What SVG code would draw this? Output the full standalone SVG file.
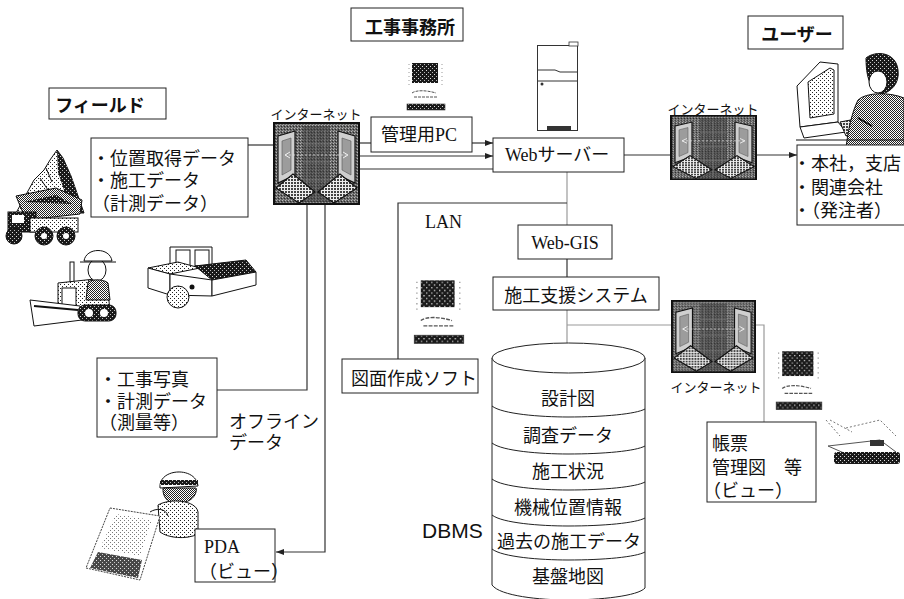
<svg xmlns="http://www.w3.org/2000/svg" width="904" height="599" viewBox="0 0 904 599">
<style>
  .box{fill:#fff;stroke:#222;stroke-width:1}
  .ln{fill:none;stroke:#333;stroke-width:1.2}
  .lg{fill:none;stroke:#9a9a9a;stroke-width:1.2}
  .ink{stroke:#111;stroke-width:1}
  text{dominant-baseline:central;fill:#111}
  .jp{font-family:"Noto Sans CJK JP","Noto Sans CJK SC",sans-serif;font-size:18px}
  .jpl{font-family:"Liberation Sans","Noto Sans CJK JP","Noto Sans CJK SC",sans-serif;font-size:18px}
  .mx{font-family:"Liberation Serif","Noto Sans CJK JP",serif;font-size:18px}
  .hd{font-family:"Noto Sans CJK JP","Noto Sans CJK SC",sans-serif;font-size:18px;font-weight:bold}
  .net{font-family:"Noto Sans CJK JP","Noto Sans CJK SC",sans-serif;font-size:13px}
  .mid{text-anchor:middle}
</style>
<defs>
  <!-- halftone fills -->
  <pattern id="p-light" width="4" height="4" patternUnits="userSpaceOnUse">
    <rect width="4" height="4" fill="#fff"/><rect width="1" height="1" fill="#222"/><rect x="2" y="2" width="1" height="1" fill="#222"/>
  </pattern>
  <pattern id="p-mid" width="2" height="2" patternUnits="userSpaceOnUse">
    <rect width="2" height="2" fill="#fff"/><rect width="1" height="1" fill="#222"/><rect x="1" y="1" width="1" height="1" fill="#222"/>
  </pattern>
  <pattern id="p-dark" width="4" height="4" patternUnits="userSpaceOnUse">
    <rect width="4" height="4" fill="#1a1a1a"/><rect width="1" height="1" fill="#ddd"/><rect x="2" y="2" width="1" height="1" fill="#bbb"/>
  </pattern>
  <pattern id="p-grain" width="3" height="3" patternUnits="userSpaceOnUse">
    <rect width="1" height="1" fill="#b8b8b8"/><rect x="2" y="1" width="1" height="1" fill="#2a2a2a"/><rect x="1" y="2" width="1" height="1" fill="#9a9a9a"/>
  </pattern>
  <pattern id="p-keys" width="3" height="3" patternUnits="userSpaceOnUse">
    <rect width="3" height="3" fill="#eee"/><rect width="2" height="2" fill="#444"/>
  </pattern>
  <marker id="ah" viewBox="0 0 8 6" refX="8" refY="3" markerWidth="8" markerHeight="6" orient="auto" markerUnits="userSpaceOnUse">
    <path d="M0,0 L8,3 L0,6 z" fill="#222"/>
  </marker>
  <!-- internet icon: two laptops facing each other over a grey field -->
  <symbol id="inet" viewBox="0 0 87 83" preserveAspectRatio="none">
    <rect x="0" y="0" width="87" height="83" fill="#666"/>
    <rect x="0" y="0" width="87" height="83" fill="url(#p-grain)"/>
    <rect x="30" y="4" width="27" height="76" fill="#3a3a3a" opacity="0.55"/>
    <path d="M34,8 V78 M43,8 V78 M52,8 V78 M30,22 H57 M30,40 H57 M30,58 H57" stroke="#8a8a8a" stroke-width="0.8" opacity="0.7"/>
    <g id="lap">
      <polygon points="5,14 22,9 22,53 5,61" fill="#cfcfcf" stroke="#111" stroke-width="1.2"/>
      <polygon points="9,19 18,16 18,48 9,53" fill="#9c9c9c" stroke="#555" stroke-width="0.6"/>
      <polygon points="3,66 20,52 42,70 26,81" fill="url(#p-keys)" stroke="#111" stroke-width="1.2"/>
    </g>
    <use href="#lap" transform="translate(87,0) scale(-1,1)"/>
    <path d="M12,33 H75" stroke="#ddd" stroke-width="0.8" stroke-dasharray="2 2"/>
    <path d="M12,33 l5,-3 M12,33 l5,3 M75,33 l-5,-3 M75,33 l-5,3" stroke="#eee" stroke-width="1"/>
    <rect x="1" y="1" width="85" height="81" fill="none" stroke="#111" stroke-width="2"/>
  </symbol>
  <!-- small desktop terminal -->
  <symbol id="pc" viewBox="0 0 40 50" preserveAspectRatio="none">
    <rect x="6" y="1" width="26" height="20" fill="url(#p-dark)"/>
    <path d="M3,2 V26 M36,2 V26" stroke="#999" stroke-width="1" stroke-dasharray="1 3"/>
    <path d="M6,31 C10,28 20,28 30,31 M8,35 H32" stroke="#555" stroke-width="1" fill="none" stroke-dasharray="3 1"/>
    <rect x="1" y="42" width="38" height="6" fill="url(#p-dark)" stroke="#333" stroke-width="0.6"/>
  </symbol>
</defs>

<!-- connectors -->
<g id="connectors">
  <path class="ln" d="M248,145 H273"/>
  <path class="ln" d="M360,143 H371"/>
  <path class="ln" d="M472,143 H493" marker-end="url(#ah)"/>
  <path class="ln" d="M360,156 H493" marker-end="url(#ah)"/>
  <path class="ln" d="M360,169 H493"/>
  <path class="ln" d="M307,205 V390 H217"/>
  <path class="ln" d="M325,205 V552 H276" marker-end="url(#ah)"/>
  <path class="lg" d="M567,172 V225"/>
  <path class="ln" d="M398,359 V203 H567"/>
  <path class="ln" d="M567,259 V277"/>
  <path class="lg" d="M567,310 V343"/>
  <path class="lg" d="M567,325 H764 V422"/>
  <path class="ln" d="M624,155 H670"/>
  <path class="ln" d="M757,155 H797" marker-end="url(#ah)"/>
</g>

<!-- field side -->
<g id="field-label">
  <rect class="box" x="49" y="88" width="117" height="31"/>
  <text class="hd mid" x="100" y="104" font-size="17">フィールド</text>
</g>
<g id="field-data">
  <rect class="box" x="91" y="138" width="157" height="79"/>
  <text class="jpl"><tspan x="92" y="158.5">・位置取得データ</tspan><tspan x="92" y="180.5">・施工データ</tspan><tspan x="92" y="203.5">（計測データ）</tspan></text>
</g>

<!-- field equipment drawings -->
<g id="field-machines">
  <!-- mountain -->
  <path d="M16,213 L34,180 L44,170 L50,160 L57,150 L63,158 L71,176 L84,213 Z" fill="url(#p-light)" class="ink"/>
  <path d="M57,150 L63,158 L71,176 L84,213 L60,213 L64,190 L58,172 Z" fill="url(#p-dark)"/>
  <path d="M40,178 L48,190 M46,168 L52,182" stroke="#111" stroke-width="1"/>
  <!-- dump truck -->
  <polygon points="16,196 56,188 82,200 80,214 26,220" fill="url(#p-mid)" class="ink"/>
  <polygon points="24,202 56,195 72,204" fill="url(#p-dark)"/>
  <rect x="8" y="212" width="28" height="20" fill="url(#p-dark)" class="ink"/>
  <rect x="12" y="215" width="12" height="8" fill="#fff"/>
  <rect x="30" y="218" width="48" height="14" fill="url(#p-light)" class="ink"/>
  <circle cx="14" cy="236" r="8" fill="url(#p-dark)" class="ink"/>
  <circle cx="44" cy="236" r="9" fill="url(#p-dark)" class="ink"/>
  <circle cx="66" cy="236" r="9" fill="url(#p-dark)" class="ink"/>
  <circle cx="44" cy="236" r="3" fill="#fff"/><circle cx="66" cy="236" r="3" fill="#fff"/>
  <!-- bulldozer with operator -->
  <rect x="70" y="262" width="4" height="20" fill="#fff" class="ink"/>
  <polygon points="58,283 95,279 108,290 110,312 58,314" fill="url(#p-light)" class="ink"/>
  <rect x="62" y="288" width="14" height="18" fill="#fff" class="ink"/>
  <polygon points="30,300 80,306 82,320 34,326" fill="#fff" class="ink"/>
  <path d="M34,306 L78,310" stroke="#111" stroke-width="2"/>
  <rect x="78" y="305" width="38" height="16" rx="7" fill="url(#p-dark)" class="ink"/>
  <circle cx="89" cy="313" r="4" fill="#fff"/><circle cx="104" cy="313" r="4" fill="#fff"/>
  <ellipse cx="97" cy="270" rx="9" ry="11" fill="#fff" class="ink"/>
  <path d="M84,261 C86,247 110,247 112,261 Z" fill="#fff" class="ink"/>
  <path d="M80,262 H116" class="ink"/>
  <path d="M88,282 C92,279 104,279 108,283 L110,300 L86,300 Z" fill="url(#p-mid)" class="ink"/>
  <!-- road roller -->
  <path d="M170,247 H212 V268 H170 Z" fill="none" class="ink"/>
  <rect x="176" y="250" width="14" height="16" fill="#fff" class="ink"/>
  <rect x="195" y="250" width="14" height="16" fill="#fff" class="ink"/>
  <polygon points="148,268 178,262 200,268 170,274" fill="url(#p-light)" class="ink"/>
  <polygon points="148,268 170,274 170,295 148,288" fill="#fff" class="ink"/>
  <polygon points="195,266 246,260 256,272 212,280" fill="url(#p-dark)" class="ink"/>
  <polygon points="170,274 212,280 212,296 170,295" fill="#fff" class="ink"/>
  <polygon points="212,280 256,272 256,285 212,296" fill="#fff" class="ink"/>
  <circle cx="178" cy="297" r="11" fill="url(#p-light)" class="ink"/>
  <circle cx="192" cy="287" r="2.5" fill="#111"/>
</g>

<!-- construction office -->
<g id="office-label">
  <rect class="box" x="351" y="8" width="112" height="33"/>
  <text class="hd mid" x="410" y="26" font-size="19">工事事務所</text>
</g>
<g id="office-pc">
  <use href="#pc" x="406" y="62" width="40" height="50"/>
</g>
<g id="internet-field">
  <text class="net mid" x="316" y="113">インターネット</text>
  <use href="#inet" x="273" y="122" width="87" height="83"/>
</g>
<g id="kanri-pc">
  <rect class="box" x="371" y="117" width="101" height="35"/>
  <text class="mx" x="381" y="135">管理用PC</text>
</g>
<g id="server-tower">
  <rect x="537.5" y="45.5" width="40" height="85" fill="#fff" stroke="#333"/>
  <rect x="569" y="42" width="9" height="4" fill="#fff" stroke="#333" stroke-width="0.8"/>
  <path d="M538,70 H555 L560,72 H577 M538,81 H577" stroke="#333" stroke-width="1" fill="none"/>
  <circle cx="542" cy="84" r="1.5" fill="#333"/>
  <rect x="547" y="126" width="24" height="4" fill="#333"/>
</g>
<g id="web-server">
  <rect class="box" x="493" y="138" width="131" height="34"/>
  <text class="mx" x="505" y="155">Webサーバー</text>
</g>

<!-- user side -->
<g id="user-label">
  <rect class="box" x="748" y="16" width="95" height="33"/>
  <text class="hd mid" x="797" y="33">ユーザー</text>
</g>
<g id="internet-user">
  <text class="net mid" x="713" y="108">インターネット</text>
  <use href="#inet" x="670" y="115" width="87" height="65"/>
</g>
<g id="user-person">
  <polygon points="797,86 820,62 838,64 838,122 800,127" fill="#fff" class="ink"/>
  <polygon points="808,82 830,68 834,70 834,114 810,118" fill="url(#p-light)" class="ink"/>
  <polygon points="800,127 838,122 846,132 804,138" fill="#fff" class="ink"/>
  <polygon points="840,122 872,116 880,130 846,136" fill="url(#p-keys)" class="ink"/>
  <path d="M866,58 C876,50 896,52 898,70 C900,84 890,92 882,94 C874,92 866,84 866,58 Z" fill="url(#p-dark)" class="ink"/>
  <ellipse cx="878" cy="82" rx="9" ry="11" fill="#fff" class="ink"/>
  <path d="M858,100 C866,92 890,92 904,98 V148 H846 C848,130 852,112 858,100 Z" fill="url(#p-mid)" class="ink"/>
  <path d="M858,118 L872,126" stroke="#111" stroke-width="2"/>
  <path d="M796,140 H904" stroke="#111" stroke-width="1"/>
</g>
<g id="user-info">
  <rect class="box" x="797" y="145" width="120" height="80"/>
  <text class="jpl" font-size="17.5"><tspan x="793" y="163.5">・本社，支店</tspan><tspan x="793" y="188">・関連会社</tspan><tspan x="793" y="210.5">・（発注者）</tspan></text>
</g>

<!-- LAN side -->
<g id="lan-label">
  <text class="mx" x="425" y="222">LAN</text>
</g>
<g id="lan-pc">
  <use href="#pc" x="413" y="279" width="52" height="67"/>
</g>
<g id="zumen-soft">
  <rect class="box" x="342" y="359" width="136" height="34"/>
  <text class="jp" x="351" y="377" font-size="17">図面作成ソフト</text>
</g>
<g id="web-gis">
  <rect class="box" x="518" y="225" width="94" height="34"/>
  <text class="mx mid" x="565" y="243">Web-GIS</text>
</g>
<g id="sekou-system">
  <rect class="box" x="493" y="277" width="166" height="33"/>
  <text class="jp mid" x="576" y="294">施工支援システム</text>
</g>

<!-- database cylinder -->
<g id="dbms">
  <path d="M492,358 V585 C500,596 540,600 568,600 C600,600 638,596 645,588 V358" fill="#fff" stroke="#222" stroke-width="1"/>
  <ellipse cx="568.5" cy="358" rx="76.5" ry="15" fill="#fff" stroke="#222" stroke-width="1"/>
  <g fill="none" stroke="#222" stroke-width="1">
    <path d="M492,406 C502,414 540,417 568,417 C604,417 636,414 645,409"/>
    <path d="M492,443 C502,451 540,454 568,454 C604,454 636,451 645,446"/>
    <path d="M492,479 C502,487 540,490 568,490 C604,490 636,487 645,482"/>
    <path d="M492,515 C502,523 540,526 568,526 C604,526 636,523 645,518"/>
    <path d="M492,549 C502,557 540,560 568,560 C604,560 636,557 645,552"/>
  </g>
  <text class="jp mid" x="568" y="397">設計図</text>
  <text class="jp mid" x="568" y="434">調査データ</text>
  <text class="jp mid" x="568" y="470">施工状況</text>
  <text class="jp mid" x="568" y="506">機械位置情報</text>
  <text class="jp mid" x="569" y="540">過去の施工データ</text>
  <text class="jp mid" x="568" y="575">基盤地図</text>
</g>
<g id="dbms-label">
  <text x="422" y="530" font-family="Liberation Sans, Arial, sans-serif" font-size="21">DBMS</text>
</g>

<!-- report output side -->
<g id="internet-report">
  <use href="#inet" x="671" y="300" width="85" height="73"/>
  <text class="net mid" x="716" y="386">インターネット</text>
</g>
<g id="report-pc">
  <use href="#pc" x="775" y="350" width="48" height="62"/>
</g>
<g id="printer">
  <path d="M826,420 L840,436 M830,420 L852,432 M846,428 L880,420 L896,436" stroke="#777" stroke-width="1" fill="none" stroke-dasharray="2 2"/>
  <polygon points="828,446 880,440 896,452 860,460" fill="#fff" stroke="#555" stroke-width="1"/>
  <rect x="834" y="452" width="66" height="12" rx="3" fill="url(#p-dark)"/>
  <rect x="870" y="440" width="14" height="6" fill="#333"/>
</g>
<g id="chohyo">
  <rect class="box" x="707" y="422" width="109" height="80"/>
  <text class="jpl"><tspan x="712" y="443.5">帳票</tspan><tspan x="712" y="467.5">管理図　等</tspan><tspan x="703" y="490.5">（ビュー）</tspan></text>
</g>

<!-- offline path -->
<g id="photo-data">
  <rect class="box" x="97" y="358" width="120" height="79"/>
  <text class="jpl"><tspan x="99" y="379.5">・工事写真</tspan><tspan x="99" y="401.5">・計測データ</tspan><tspan x="99" y="422.5">（測量等）</tspan></text>
</g>
<g id="offline-label">
  <text class="jpl" font-size="17"><tspan x="229" y="421.5">オフライン</tspan><tspan x="229" y="442.5">データ</tspan></text>
</g>
<g id="pda-worker">
  <path d="M160,488 C158,468 196,466 198,486 Z" fill="#fff" class="ink"/>
  <rect x="160" y="480" width="38" height="5" fill="url(#p-dark)"/>
  <path d="M163,488 C162,502 176,508 190,500 C196,496 197,490 196,488 Z" fill="url(#p-mid)" class="ink"/>
  <path d="M158,505 C170,498 196,500 198,512 L198,534 C186,540 168,538 160,532 Z" fill="url(#p-light)" class="ink"/>
  <polygon points="110,508 160,516 140,580 86,568" fill="#fff" stroke="#444" stroke-width="1" stroke-dasharray="2 1"/>
  <polygon points="116,514 152,520 140,556 100,548" fill="url(#p-light)" opacity="0.6"/>
  <polygon points="98,552 142,560 138,578 90,568" fill="url(#p-dark)" opacity="0.8"/>
  <path d="M150,512 C156,508 166,508 168,516" stroke="#111" fill="none"/>
</g>
<g id="pda">
  <rect class="box" x="195" y="529" width="80" height="53"/>
  <text class="mx" x="204" y="547">PDA</text>
  <text class="jp" x="199" y="570" font-size="13">（ビュー）</text>
</g>
</svg>
